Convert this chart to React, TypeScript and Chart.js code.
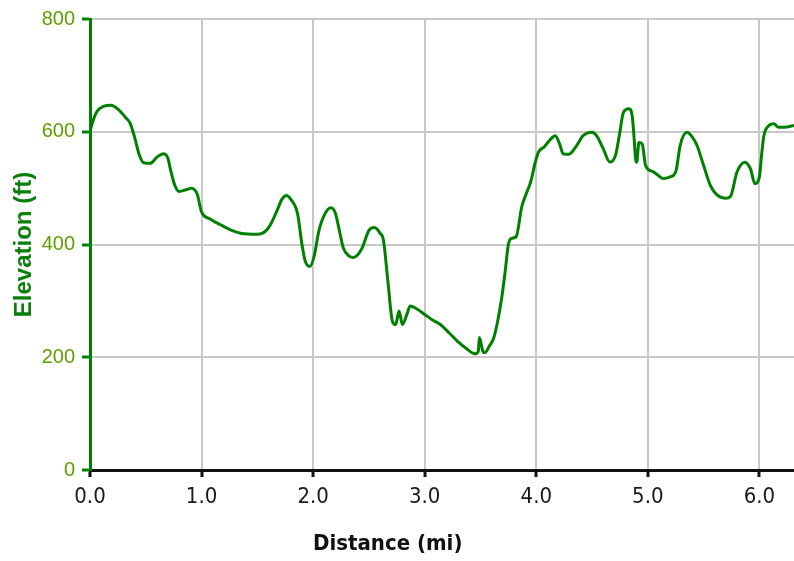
import React, { useEffect, useRef } from "react";
import { Chart, registerables } from "chart.js";

Chart.register(...registerables);

const distances = [
  0.0, 0.02, 0.06, 0.12, 0.19, 0.25, 0.32, 0.36, 0.4, 0.44, 0.48, 0.54, 0.6, 0.66, 0.7, 0.72, 0.76, 0.8, 0.86, 0.91,
  0.96, 1.0, 1.08, 1.17, 1.27, 1.35, 1.5, 1.58, 1.63, 1.68, 1.72, 1.76, 1.8, 1.86, 1.9, 1.93, 1.97, 2.01, 2.05, 2.1,
  2.16, 2.2, 2.24, 2.27, 2.32, 2.36, 2.4, 2.44, 2.5, 2.55, 2.6, 2.63, 2.67, 2.71, 2.74, 2.77, 2.8, 2.84, 2.87, 2.92,
  3.0, 3.07, 3.14, 3.22, 3.29, 3.37, 3.45, 3.48, 3.49, 3.51, 3.52, 3.54, 3.58, 3.62, 3.66, 3.69, 3.72, 3.75, 3.78,
  3.82, 3.87, 3.91, 3.95, 3.99, 4.02, 4.07, 4.12, 4.17, 4.21, 4.24, 4.29, 4.35, 4.42, 4.5, 4.54, 4.6, 4.66, 4.71,
  4.75, 4.78, 4.83, 4.86, 4.88, 4.89, 4.9, 4.92, 4.95, 4.98, 5.05, 5.14, 5.2, 5.25, 5.29, 5.35, 5.4, 5.44, 5.5,
  5.56, 5.62, 5.7, 5.74, 5.8, 5.87, 5.92, 5.96, 6.0, 6.02, 6.04, 6.08, 6.13, 6.17, 6.22, 6.31,
];

const elevations = [
  600, 615, 635, 645, 647, 640, 625, 615, 590, 560, 545, 544, 555, 561, 552, 534, 505, 494, 497, 500,
  490, 458, 445, 435, 425, 420, 418, 425, 440, 462, 480, 487, 480, 455, 400, 370, 361, 380, 423, 452,
  465, 455, 420, 394, 380, 377, 382, 394, 425, 430, 420, 408, 335, 264, 258, 282, 258, 276, 291, 287,
  276, 266, 258, 243, 229, 216, 206, 210, 235, 220, 211, 208, 220, 235, 270, 305, 350, 400, 411,
  414, 467, 490, 511, 545, 564, 573, 585, 593, 578, 561, 560, 572, 593, 599, 593, 570, 546, 558,
  600, 634, 641, 628, 580, 552, 546, 581, 578, 540, 529, 517, 520, 529, 576, 599, 590, 576, 540,
  505, 488, 482, 485, 529, 546, 534, 508, 520, 560, 593, 610, 614, 608, 608, 611,
];

const xTickValues = [0, 1, 2, 3, 4, 5, 6];
const yTickValues = [0, 200, 400, 600, 800];
const xTitle = "Distance (mi)";
const yTitle = "Elevation (ft)";

export default function App() {
  const ref = useRef<HTMLCanvasElement | null>(null);

  useEffect(() => {
    if (!ref.current) return;
    const points = distances.map((d, i) => ({ x: d, y: elevations[i] }));
    const chart = new Chart(ref.current, {
      type: "line",
      data: {
        datasets: [
          {
            data: points,
            borderColor: "#008000",
            borderWidth: 3,
            pointRadius: 0,
            cubicInterpolationMode: "monotone",
            fill: false,
          },
        ],
      },
      options: {
        animation: false,
        responsive: true,
        maintainAspectRatio: false,
        layout: { padding: { top: 16, left: 0, right: 0, bottom: 0 } },
        plugins: { legend: { display: false }, tooltip: { enabled: false } },
        scales: {
          x: {
            type: "linear",
            min: 0,
            max: 6.31,
            afterBuildTicks: (s: any) => {
              s.ticks = xTickValues.map((v) => ({ value: v }));
            },
            afterFit: (s: any) => {
              s.height = 91;
            },
            ticks: {
              color: "#1a1a1a",
              font: { family: "'Liberation Sans Narrow', 'DejaVu Sans Condensed', sans-serif", size: 22 },
              padding: 7,
              callback: (v: any) => Number(v).toFixed(1),
              maxRotation: 0,
            },
            grid: {
              color: "#c8c8c8",
              lineWidth: 2,
              tickColor: "#111111",
              tickLength: 7,
              tickWidth: 3,
            },
            border: { color: "#111111", width: 3 },
          },
          y: {
            min: 0,
            max: 800,
            afterBuildTicks: (s: any) => {
              s.ticks = yTickValues.map((v) => ({ value: v }));
            },
            afterFit: (s: any) => {
              s.width = 90;
            },
            ticks: {
              color: "#5f9e00",
              font: { family: "'Liberation Sans', Arial, sans-serif", size: 20 },
              padding: 7,
            },
            grid: {
              color: "#c8c8c8",
              lineWidth: 2,
              tickColor: "#008000",
              tickLength: 8,
              tickWidth: 3,
            },
            border: { color: "#008000", width: 3 },
            title: {
              display: true,
              text: yTitle,
              color: "#0a800a",
              font: { family: "'Liberation Sans', Arial, sans-serif", size: 24, weight: "bold" },
              padding: { top: 10, bottom: 0 },
            },
          },
        },
      },
    });
    return () => chart.destroy();
  }, []);

  return (
    <div style={{ position: "absolute", left: 0, top: 0, width: 794, height: 561, background: "#ffffff" }}>
      <canvas ref={ref} />
      <div
        style={{
          position: "absolute",
          left: 313,
          top: 530,
          fontFamily: "'Liberation Sans Narrow', 'DejaVu Sans Condensed', sans-serif",
          fontWeight: "bold",
          fontSize: 22,
          color: "#111111",
          whiteSpace: "nowrap",
        }}
      >
        {xTitle}
      </div>
    </div>
  );
}
